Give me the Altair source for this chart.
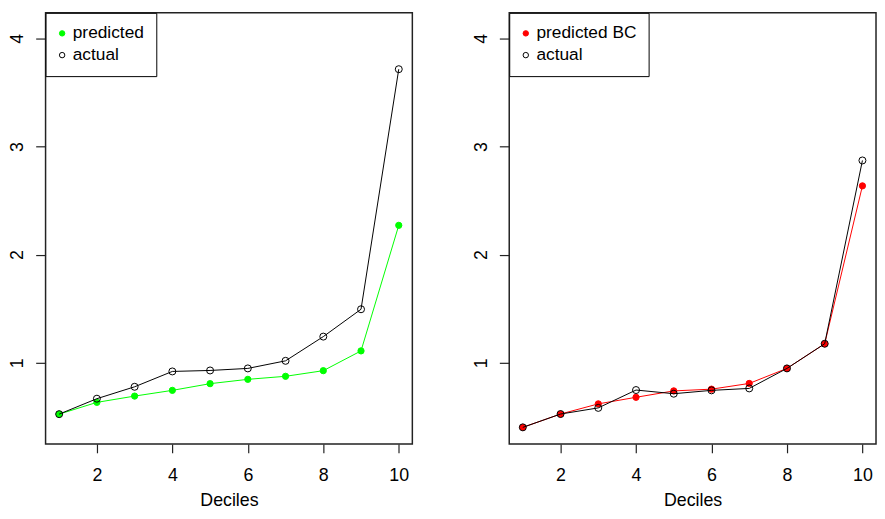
import altair as alt
import pandas as pd

deciles = [1, 2, 3, 4, 5, 6, 7, 8, 9, 10]
left_predicted = [0.525, 0.634, 0.692, 0.745, 0.807, 0.847, 0.875, 0.927, 1.110, 2.271]
left_actual = [0.525, 0.668, 0.778, 0.920, 0.929, 0.948, 1.018, 1.242, 1.495, 3.715]
right_predicted_bc = [0.403, 0.526, 0.620, 0.681, 0.740, 0.756, 0.809, 0.948, 1.176, 2.636]
right_actual = [0.403, 0.526, 0.583, 0.748, 0.714, 0.745, 0.763, 0.948, 1.176, 2.871]
x_ticks = [2, 4, 6, 8, 10]
y_ticks = [1, 2, 3, 4]

FONT = "Liberation Sans"


def panel(pred, act, pred_label, pred_color):
    df = pd.DataFrame({
        "decile": deciles * 2,
        "value": pred + act,
        "series": [pred_label] * len(pred) + ["actual"] * len(act),
    })
    x = alt.X("decile:Q",
              scale=alt.Scale(domain=[0.64, 10.36], nice=False, zero=False),
              axis=alt.Axis(values=x_ticks, title="Deciles", tickSize=9,
                            labelPadding=14, titlePadding=7, labelFlush=False))
    y = alt.Y("value:Q",
              scale=alt.Scale(domain=[0.25, 4.236], nice=False, zero=False),
              axis=alt.Axis(values=y_ticks, title=None, labelAngle=270,
                            tickSize=10, labelPadding=9, labelFlush=False))
    dom = [pred_label, "actual"]
    leg = alt.Legend(title=None, orient="top-left", offset=0, padding=12,
                     strokeColor="black", fillColor="white",
                     labelFont=FONT, labelFontSize=17.5, labelColor="black",
                     symbolSize=30, symbolStrokeWidth=1, symbolOffset=-4,
                     labelOffset=2, rowPadding=3, symbolType="circle")
    fill = alt.Fill("series:N", scale=alt.Scale(domain=dom, range=[pred_color, "transparent"]), legend=leg)
    stroke = alt.Stroke("series:N", scale=alt.Scale(domain=dom, range=[pred_color, "black"]), legend=leg)

    base = alt.Chart(df)
    pred_df = base.transform_filter(alt.datum.series == pred_label)
    act_df = base.transform_filter(alt.datum.series == "actual")

    pred_line = pred_df.mark_line(color=pred_color, strokeWidth=1).encode(x=x, y=y)
    pred_pts = pred_df.mark_circle(size=40, opacity=1, strokeWidth=1).encode(x=x, y=y, fill=fill, stroke=stroke)
    act_line = act_df.mark_line(color="black", strokeWidth=1).encode(x=x, y=y)
    act_pts = act_df.mark_circle(size=50, opacity=1, strokeWidth=1).encode(x=x, y=y, fill=fill, stroke=stroke)

    return alt.layer(pred_line, pred_pts, act_line, act_pts).properties(width=371, height=436)


left = panel(left_predicted, left_actual, "predicted", "#00ff00")
right = panel(right_predicted_bc, right_actual, "predicted BC", "#ff0000")

chart = (
    alt.hconcat(left, right, spacing=59)
    .resolve_scale(fill="independent", stroke="independent")
    .properties(padding=0, background="white")
    .configure_view(stroke="#222222", strokeWidth=1.5)
    .configure_axis(grid=False, domain=False, tickColor="#222222", tickWidth=1.2,
                    labelFont=FONT, labelFontSize=18, labelColor="black",
                    titleFont=FONT, titleFontSize=18, titleFontWeight="normal",
                    titleColor="black")
)

chart.save("out.html", embed_options={"renderer": "svg", "actions": False})
